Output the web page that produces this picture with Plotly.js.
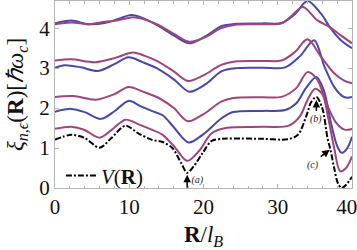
<!DOCTYPE html>
<html>
<head>
<meta charset="utf-8">
<script src="https://cdn.plot.ly/plotly-3.0.1.min.js"></script>
<style>html,body{margin:0;padding:0;background:#fff}#plot{width:357px;height:250px}</style>
</head>
<body>
<div id="plot"></div>
<script>
// Potential V(R)
const xV = [0, 2.2, 4.0, 6.0, 7.6, 9.5, 11.2, 13.0, 14.5, 15.8, 17.0, 17.8, 18.7, 19.9, 21.1, 22.5, 24, 28, 31.3, 32.7, 33.9, 34.5, 35.2, 36.0, 36.7, 37.1, 37.6, 38.1, 38.6, 39.2, 40];
const yV = [1.21, 1.33, 1.25, 1.01, 1.25, 1.56, 1.37, 1.21, 1.15, 1.0, 0.62, 0.38, 0.55, 0.88, 1.18, 1.23, 1.24, 1.23, 1.22, 1.33, 1.83, 2.15, 2.28, 2.0, 1.25, 0.96, 0.5, 0.12, 0.0, 0.08, 0.28];
// purple (lowest)
const xP0 = [0, 2.2, 4, 6, 7.6, 9.5, 11.2, 13, 14.5, 16, 17.8, 19.5, 21.1, 23, 28, 31.5, 33, 34, 35, 36, 36.8, 37.6, 38.4, 39.2, 40];
const yP0 = [1.48, 1.53, 1.45, 1.26, 1.45, 1.71, 1.6, 1.46, 1.33, 1.05, 0.68, 0.95, 1.37, 1.5, 1.53, 1.56, 1.8, 2.2, 2.48, 2.35, 1.75, 1.0, 0.42, 0.5, 0.79];
// blue 1
const xB1 = [0, 2.2, 4, 6.2, 8, 9.9, 11.5, 13, 14.5, 16, 18, 20, 22.4, 24, 28, 31, 32.5, 33.8, 35.2, 36.2, 37.2, 38, 38.6, 39.3, 40];
const yB1 = [1.91, 1.98, 1.9, 1.73, 1.92, 2.18, 2.05, 1.93, 1.82, 1.52, 1.14, 1.35, 1.74, 1.9, 1.93, 1.95, 2.12, 2.5, 2.78, 2.45, 1.6, 1.05, 0.88, 0.98, 1.28];
// purple 1
const xP1 = [0, 2.5, 5.5, 8, 9.9, 12, 14.1, 16, 17.9, 20, 22.4, 24, 28, 30.5, 32.5, 34, 35.3, 36.5, 37.8, 39, 40];
const yP1 = [2.28, 2.3, 2.21, 2.35, 2.53, 2.4, 2.24, 2.0, 1.67, 1.85, 2.16, 2.25, 2.27, 2.28, 2.5, 2.9, 2.72, 2.15, 1.65, 1.46, 1.48];
// blue 2
const xB2 = [0, 1.3, 3.5, 5.8, 8, 9.9, 11.8, 13.7, 16, 18.1, 20.3, 22.4, 24.5, 28, 31, 33, 34.9, 36.3, 37.6, 38.7, 39.4, 40];
const yB2 = [3.01, 3.07, 3.02, 2.93, 3.1, 3.27, 3.15, 3.0, 2.72, 2.41, 2.6, 2.92, 3.0, 3.01, 3.02, 3.3, 3.7, 3.03, 2.53, 2.3, 2.26, 2.28];
// purple 2
const xP2 = [0, 2.2, 5.4, 8, 10.5, 12.2, 13.7, 16, 17.9, 20, 22.4, 24.5, 28, 30.5, 32.3, 34, 35.8, 37.6, 39, 40];
const yP2 = [3.19, 3.22, 3.15, 3.25, 3.39, 3.3, 3.18, 2.92, 2.68, 2.82, 3.08, 3.17, 3.18, 3.19, 3.4, 3.72, 3.29, 2.87, 2.68, 2.62];
// blue 3
const xB3 = [0, 2.2, 4.5, 6.7, 8.5, 10.3, 12, 13.7, 16, 18.1, 20.3, 22.4, 24.5, 28, 30.5, 32.3, 34, 35.8, 37.1, 38.5, 40];
const yB3 = [4.12, 4.19, 4.1, 4.13, 4.23, 4.33, 4.24, 4.08, 3.82, 3.62, 3.8, 4.05, 4.11, 4.12, 4.13, 4.35, 4.68, 4.37, 4.0, 3.7, 3.5];
// purple 3
const xP3 = [0, 2.2, 4.5, 6.7, 8.5, 10.3, 12, 13.7, 16, 18.1, 20.3, 22.4, 24.5, 28, 30.5, 31.8, 33.4, 35.3, 36.9, 38.5, 40];
const yP3 = [4.1, 4.14, 4.1, 4.16, 4.2, 4.27, 4.22, 4.1, 3.86, 3.66, 3.78, 4.0, 4.09, 4.1, 4.12, 4.3, 4.53, 4.2, 4.04, 3.82, 3.62];

const xTicks = [0, 10, 20, 30, 40];
const xTickText = ['0', '10', '20', '30', '40<span style="color:rgba(0,0,0,0)">0</span>'];
const yTicks = [0, 1, 2, 3, 4];

const BLUE = '#4848aa';
const PURPLE = '#a2447c';
const SER = 'Liberation Serif, Times New Roman, serif';

function curve(x, y, color) {
  return {x: x, y: y, type: 'scatter', mode: 'lines', showlegend: false, hoverinfo: 'skip',
          line: {color: color, width: 2, shape: 'spline', smoothing: 0.9}};
}

const traces = [
  curve(xB3, yB3, BLUE), curve(xP3, yP3, PURPLE),
  curve(xB2, yB2, BLUE), curve(xP2, yP2, PURPLE),
  curve(xB1, yB1, BLUE), curve(xP1, yP1, PURPLE),
  curve(xP0, yP0, PURPLE),
  {x: xV, y: yV, type: 'scatter', mode: 'lines', name: '<i>V</i>(<b>R</b>)', showlegend: true,
   line: {color: '#000', width: 2, dash: '6px,2px,2px,2px', shape: 'spline', smoothing: 0.9}}
];

const axisCommon = {
  showline: true, linecolor: '#b5b5b5', linewidth: 1, mirror: 'ticks',
  ticks: 'inside', ticklen: 4, tickcolor: '#b5b5b5', tickwidth: 1,
  showgrid: false, zeroline: false, ticklabeloverflow: 'allow',
  tickfont: {family: SER, size: 21, color: '#111'}
};

const lblFont = {family: SER, size: 10, color: '#222'};

const layout = {
  width: 357, height: 250,
  margin: {l: 55, r: 5, t: 1, b: 62},
  paper_bgcolor: '#fff', plot_bgcolor: '#fff',
  xaxis: Object.assign({}, axisCommon, {
    range: [0, 40], tickvals: xTicks, ticktext: xTickText,
    minor: {dtick: 2, ticks: 'inside', ticklen: 2.5, tickcolor: '#b5b5b5'},
    title: {text: '<b>R</b>/<i>l</i><sub><i>B</i></sub>', font: {family: SER, size: 23, color: '#111'}, standoff: 8}
  }),
  yaxis: Object.assign({}, axisCommon, {
    range: [0, 4.68], tickvals: yTicks, ticktext: yTicks.map(String),
    title: {text: '<i>ξ</i><sub><i>n,ϵ</i></sub>(<b>R</b>)[<i>ℏω</i><sub><i>c</i></sub>]', font: {family: SER, size: 23, color: '#111'}, standoff: 9}
  }),
  showlegend: true,
  legend: {x: 0.02, y: 0.065, xanchor: 'left', yanchor: 'middle', bgcolor: 'rgba(0,0,0,0)',
           font: {family: SER, size: 21, color: '#111'}, itemwidth: 30},
  annotations: [
    {x: 17.8, y: 0.33, ax: 0, ay: 13, text: '\u00a0<i>(a)</i>', showarrow: true, xanchor: 'left', yanchor: 'bottom',
     arrowhead: 2, arrowsize: 1, arrowwidth: 1.5, arrowcolor: '#000', font: lblFont},
    {x: 35.2, y: 2.2, ax: 0, ay: 11, text: '<i>(b)</i>', showarrow: true, xanchor: 'center', yanchor: 'top',
     arrowhead: 2, arrowsize: 1, arrowwidth: 1.5, arrowcolor: '#000', font: lblFont},
    {x: 37.0, y: 0.96, ax: -9, ay: 7, text: '<i>(c)</i>', showarrow: true, xanchor: 'right', yanchor: 'top',
     arrowhead: 2, arrowsize: 1, arrowwidth: 1.5, arrowcolor: '#000', font: lblFont}
  ]
};

Plotly.newPlot('plot', traces, layout, {staticPlot: true, displayModeBar: false});
</script>
</body>
</html>
